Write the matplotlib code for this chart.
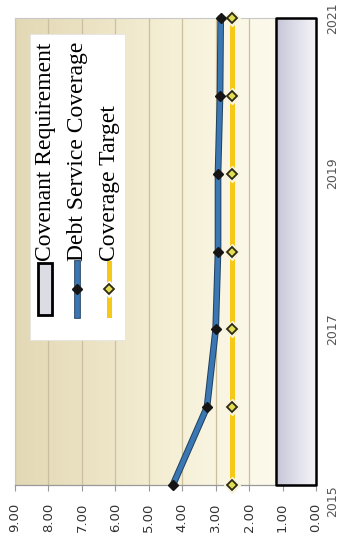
import numpy as np
import matplotlib.pyplot as plt
import matplotlib.patheffects as pe
from matplotlib.colors import LinearSegmentedColormap
from matplotlib.patches import Rectangle
from matplotlib.lines import Line2D

years = [2015, 2016, 2017, 2018, 2019, 2020, 2021]
debt_service_coverage = [4.28, 3.26, 3.00, 2.93, 2.93, 2.87, 2.85]
coverage_target = [2.50, 2.50, 2.50, 2.50, 2.50, 2.50, 2.50]
covenant_requirement = [1.20, 1.20, 1.20, 1.20, 1.20, 1.20, 1.20]
value_ticks = [0, 1, 2, 3, 4, 5, 6, 7, 8, 9]
value_labels = ['0.00', '1.00', '2.00', '3.00', '4.00', '5.00', '6.00', '7.00', '8.00', '9.00']
year_ticks = [2015, 2017, 2019, 2021]
year_labels = ['2015', '2017', '2019', '2021']

W, H = 340, 540


def fx(px):
    return px / W


def fy(py):
    return 1 - py / H


def gradient_mesh(ax, x_max, cmap, zorder):
    # horizontal colour ramp from x=0 up to x_max, spanning all years
    xs = np.linspace(0, x_max, 129)
    mids = (xs[:-1] + xs[1:]) / 2 / x_max
    return ax.pcolormesh(xs, [years[0], years[-1]], mids[np.newaxis, :],
                         cmap=cmap, vmin=0, vmax=1, shading='flat', zorder=zorder)


fig = plt.figure(figsize=(3.4, 5.4), dpi=100)
fig.patch.set_facecolor('white')
ax = fig.add_axes([fx(15), fy(485), (316 - 15) / W, (485 - 18) / H])

# cream-to-tan background across the value axis
bg_cmap = LinearSegmentedColormap.from_list(
    'bg', ['#fcfbf0', '#faf7e6', '#f4eed4', '#ebe2c3', '#e2d8b5'])
gradient_mesh(ax, value_ticks[-1], bg_cmap, 0)

# covenant requirement band: light on the zero side, lavender at the limit
band = ax.fill_betweenx(years, 0, covenant_requirement, facecolor='none',
                        edgecolor='black', lw=1.8, zorder=3, clip_on=False)
cov_cmap = LinearSegmentedColormap.from_list('cov', ['#f4f4f6', '#dedeea', '#c4c4d6'])
band_mesh = gradient_mesh(ax, max(covenant_requirement), cov_cmap, 2)
band_mesh.set_clip_path(band.get_paths()[0], ax.transData)

# debt service coverage
blue_fx = [pe.Stroke(linewidth=4.8, foreground='#1f3f5f'), pe.Normal()]
ax.plot(debt_service_coverage, years, color='#3b77b2', lw=3.4, zorder=4,
        solid_capstyle='round', path_effects=blue_fx, clip_on=False)
ax.plot(debt_service_coverage, years, ls='none', marker='D', ms=5.2,
        mfc='#151515', mec='#151515', zorder=6, clip_on=False)

# coverage target
ax.plot(coverage_target, years, color='#f6c918', lw=3.6, zorder=4, clip_on=False)
ax.plot(coverage_target, years, ls='none', marker='D', ms=8.0,
        mfc='#f8f3dc', mec='#f8f3dc', zorder=5, clip_on=False)
ax.plot(coverage_target, years, ls='none', marker='D', ms=5.6,
        mfc='#e3dc55', mec='#2e2b14', mew=1.3, zorder=6, clip_on=False)

ax.set_xlim(9, 0)
ax.set_ylim(2015, 2021)

ax.set_xticks(value_ticks)
ax.set_xticklabels(value_labels, rotation=90, fontsize=9.5, color='#333333')
ax.tick_params(axis='x', length=4, width=0.8, color='#999999', pad=9)
ax.grid(axis='x', color='#cbbf9e', lw=0.9)
ax.set_axisbelow(True)

ax.yaxis.tick_right()
ax.set_yticks(year_ticks)
ax.set_yticklabels(year_labels, rotation=90, fontsize=9, color='#555555')
ax.tick_params(axis='y', length=0, pad=7)
for lab, va in zip(ax.get_yticklabels(), ['top', 'center', 'center', 'center']):
    lab.set_va(va)

for side in ['left', 'top']:
    ax.spines[side].set_color('#c8c8c8')
    ax.spines[side].set_linewidth(0.8)
ax.spines['bottom'].set_color('#999999')
ax.spines['bottom'].set_linewidth(0.9)
ax.spines['right'].set_visible(False)

# legend drawn by hand so the entries run along the rotated layout
fig.add_artist(Rectangle((fx(30), fy(340)), (125 - 30) / W, (340 - 34) / H,
                         transform=fig.transFigure, facecolor='white',
                         edgecolor='#e4e4e4', lw=0.6, zorder=10))
fig.add_artist(Rectangle((fx(38), fy(315)), 14 / W, 52 / H, transform=fig.transFigure,
                         facecolor='#dcdce4', edgecolor='black', lw=2, zorder=11))
fig.add_artist(Line2D([fx(77), fx(77)], [fy(315), fy(263)], transform=fig.transFigure,
                      color='#3b77b2', lw=3.4, path_effects=blue_fx, zorder=11))
fig.add_artist(Line2D([fx(77)], [fy(289)], transform=fig.transFigure, ls='none',
                      marker='D', ms=5.2, mfc='#151515', mec='#151515', zorder=12))
fig.add_artist(Line2D([fx(109), fx(109)], [fy(315), fy(263)], transform=fig.transFigure,
                      color='#f6c918', lw=3.6, zorder=11))
fig.add_artist(Line2D([fx(109)], [fy(289)], transform=fig.transFigure, ls='none',
                      marker='D', ms=8.0, mfc='white', mec='white', zorder=12))
fig.add_artist(Line2D([fx(109)], [fy(289)], transform=fig.transFigure, ls='none',
                      marker='D', ms=5.6, mfc='#e3dc55', mec='#2e2b14', mew=1.3, zorder=13))

legend_labels = ['Covenant Requirement', 'Debt Service Coverage', 'Coverage Target']
for x, label in zip([46, 78, 110], legend_labels):
    fig.text(fx(x), fy(261), label, rotation=90, ha='center', va='bottom',
             fontsize=17, family='Liberation Serif', color='black', zorder=14)

fig.savefig('out.png', dpi=100)
